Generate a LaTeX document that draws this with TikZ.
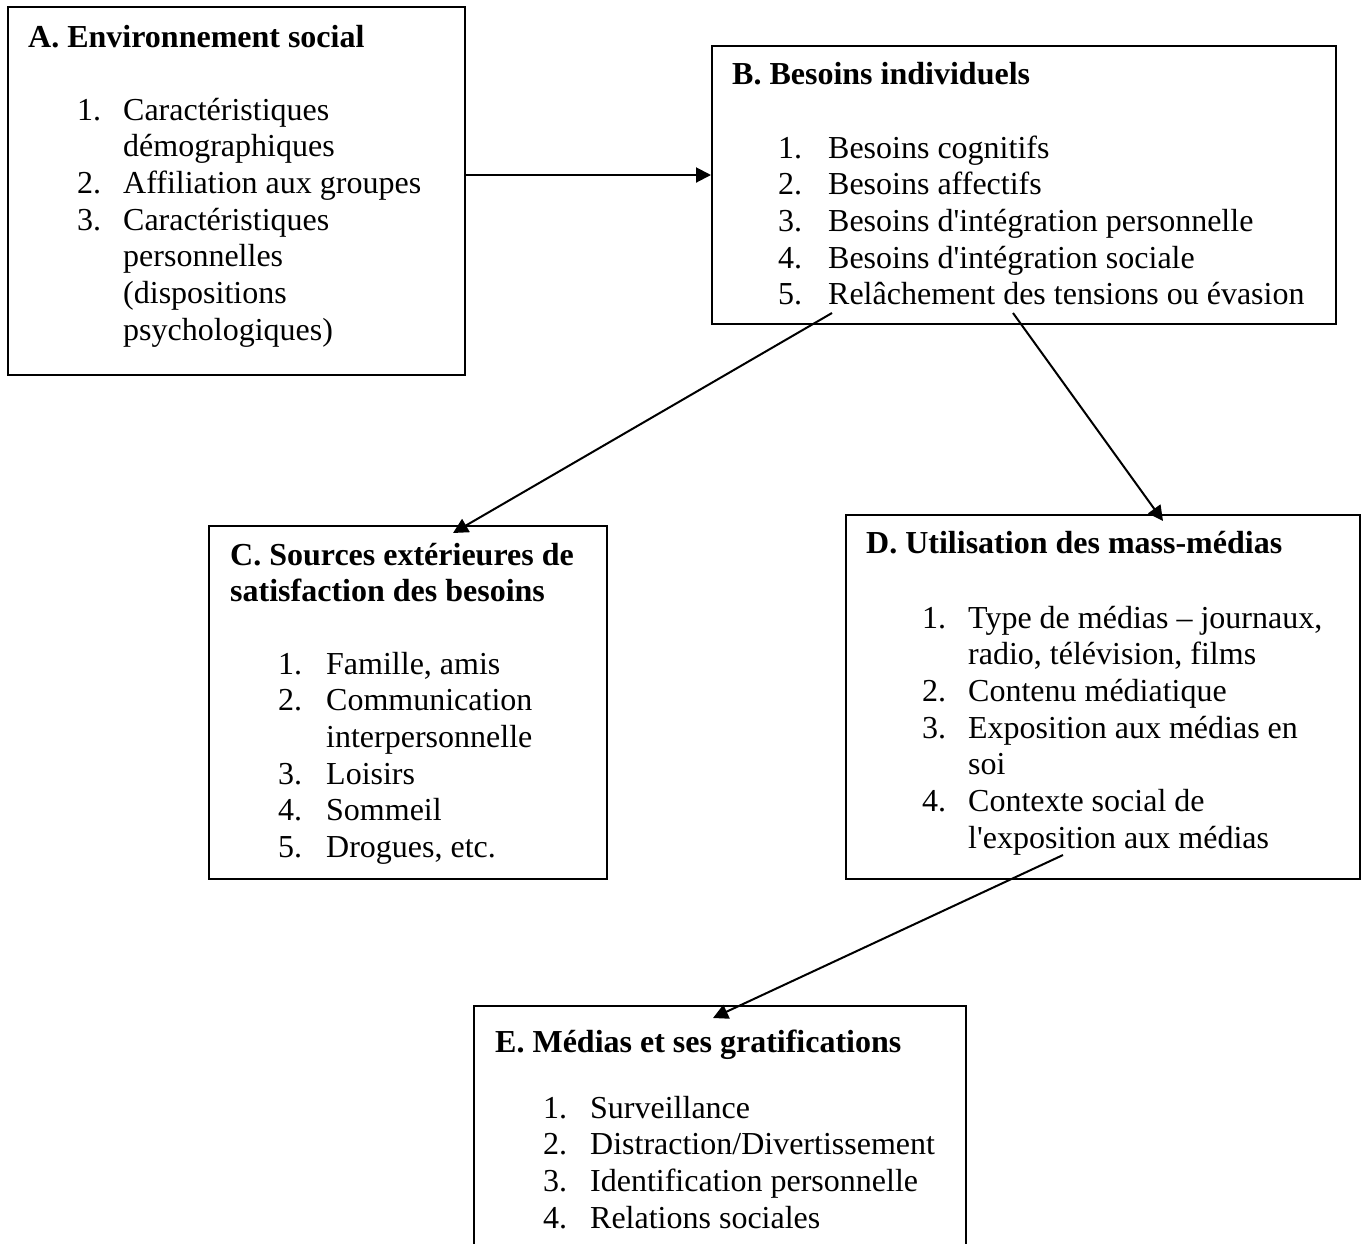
\documentclass[tikz,border=0pt]{standalone}
\usepackage{fontspec}
\setmainfont{Liberation Serif}
\usetikzlibrary{arrows.meta}
\begin{document}
\begin{tikzpicture}[x=1pt,y=-1pt,
  box/.style={draw, line width=2pt, rectangle, inner sep=0pt, anchor=north west},
  ttl/.style={anchor=base west, inner sep=0pt, font=\fontsize{32}{36.7}\selectfont\bfseries},
  lst/.style={anchor=base west, inner sep=0pt, font=\fontsize{32}{36.7}\selectfont},
  conn/.style={line width=2pt, -{Triangle[length=15pt,width=15pt]}}]
\useasboundingbox (0,0) rectangle (1362,1243);
\begin{scope}
\clip (0,0) rectangle (1362,1243);
% boxes
\node[box, minimum width=457pt, minimum height=368pt] (A) at (7,6) {};
\node[box, minimum width=624pt, minimum height=278pt] (B) at (711,45) {};
\node[box, minimum width=398pt, minimum height=353pt] (C) at (208,525) {};
\node[box, minimum width=514pt, minimum height=364pt] (D) at (845,514) {};
\node[box, minimum width=492pt, minimum height=320pt] (E) at (473,1005) {};
% titles
\node[ttl] (At) at (28,47) {A. Environnement social};
\node[ttl] (Bt) at (732,84) {B. Besoins individuels};
\node[ttl] (Ct) at (230,565) {\begin{tabular}[t]{@{}l@{}}C. Sources extérieures de\\satisfaction des besoins\end{tabular}};
\node[ttl] (Dt) at (866,553) {D. Utilisation des mass-médias};
\node[ttl] (Et) at (495,1052) {E. Médias et ses gratifications};
% lists
\node[lst] (Al) at (77,120) {\begin{tabular}[t]{@{}p{46pt}@{}l@{}}
1.& Caractéristiques\\
  & démographiques\\
2.& Affiliation aux groupes\\
3.& Caractéristiques\\
  & personnelles\\
  & (dispositions\\
  & psychologiques)
\end{tabular}};
\node[lst] (Bl) at (778,158) {\begin{tabular}[t]{@{}p{50pt}@{}l@{}}
1.& Besoins cognitifs\\
2.& Besoins affectifs\\
3.& Besoins d\textquotesingle intégration personnelle\\
4.& Besoins d\textquotesingle intégration sociale\\
5.& Relâchement des tensions ou évasion
\end{tabular}};
\node[lst] (Cl) at (278,674) {\begin{tabular}[t]{@{}p{48pt}@{}l@{}}
1.& Famille, amis\\
2.& Communication\\
  & interpersonnelle\\
3.& Loisirs\\
4.& Sommeil\\
5.& Drogues, etc.
\end{tabular}};
\node[lst] (Dl) at (922,628) {\begin{tabular}[t]{@{}p{46pt}@{}l@{}}
1.& Type de médias – journaux,\\
  & radio, télévision, films\\
2.& Contenu médiatique\\
3.& Exposition aux médias en\\
  & soi\\
4.& Contexte social de\\
  & l\textquotesingle exposition aux médias
\end{tabular}};
\node[lst] (El) at (543,1118) {\begin{tabular}[t]{@{}p{47pt}@{}l@{}}
1.& Surveillance\\
2.& Distraction/Divertissement\\
3.& Identification personnelle\\
4.& Relations sociales
\end{tabular}};
% connector ends
\coordinate (ab) at (0,175);
\coordinate (bc1) at (832,313);
\coordinate (bc2) at (453,533);
\coordinate (bd1) at (1013,313);
\coordinate (bd2) at (1163,521);
\coordinate (de1) at (1063,855);
\coordinate (de2) at (713,1018);
% connectors
\draw[conn] (A.east |- ab) -- (B.west |- ab);
\draw[conn] (bc1) -- (bc2);
\draw[conn] (bd1) -- (bd2);
\draw[conn] (de1) -- (de2);
\end{scope}
\end{tikzpicture}
\end{document}
